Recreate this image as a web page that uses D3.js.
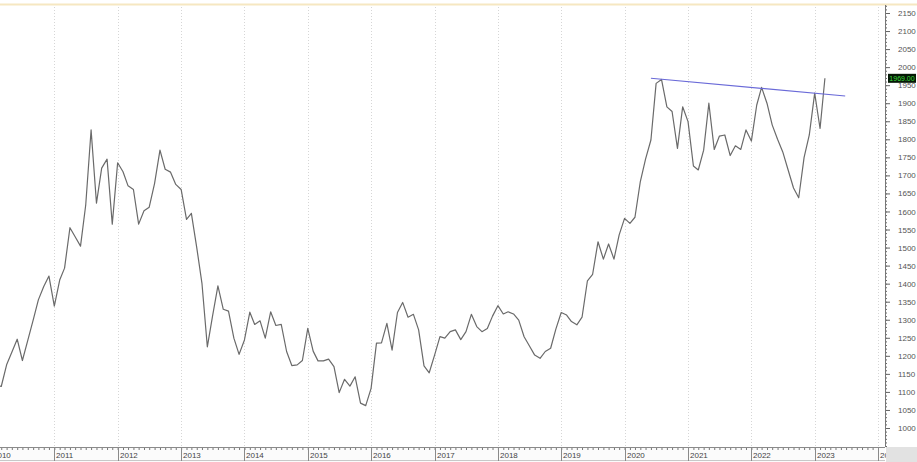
<!DOCTYPE html>
<html>
<head>
<meta charset="utf-8">
<script src="https://cdn.jsdelivr.net/npm/d3@7"></script>
<style>
body { margin: 0; background: #fff; overflow: hidden; }
svg text { font-family: "Liberation Sans", Arial, sans-serif; }
</style>
</head>
<body>
<div class="vizHolder"></div>
<script>
var width = 917,
    height = 462,
    plotRight = 885,
    plotTop = 5,
    plotBottom = 447;

// monthly closes, first value is Feb 2010
var p2010 = [1118, 1115, 1175, 1210, 1246, 1187, 1243, 1299, 1355, 1392, 1421];
var p2011 = [1338, 1410, 1443, 1555, 1530, 1504, 1618, 1826, 1623, 1720, 1745, 1565];
var p2012 = [1735, 1710, 1671, 1661, 1565, 1602, 1612, 1678, 1770, 1717, 1709, 1675];
var p2013 = [1661, 1578, 1595, 1500, 1401, 1225, 1310, 1394, 1329, 1324, 1249, 1204];
var p2014 = [1244, 1321, 1287, 1297, 1249, 1322, 1284, 1287, 1212, 1173, 1175, 1187];
var p2015 = [1276, 1213, 1186, 1186, 1191, 1170, 1098, 1135, 1116, 1142, 1069, 1062];
var p2016 = [1110, 1235, 1236, 1290, 1216, 1320, 1348, 1307, 1315, 1272, 1172, 1153];
var p2017 = [1202, 1253, 1249, 1267, 1272, 1245, 1267, 1315, 1281, 1267, 1276, 1310];
var p2018 = [1339, 1316, 1322, 1316, 1299, 1253, 1228, 1202, 1193, 1212, 1221, 1274];
var p2019 = [1320, 1313, 1295, 1286, 1307, 1408, 1426, 1516, 1468, 1510, 1468, 1535];
var p2020 = [1581, 1567, 1584, 1683, 1745, 1798, 1955, 1966, 1890, 1877, 1775, 1890];
var p2021 = [1849, 1726, 1715, 1770, 1900, 1772, 1809, 1812, 1755, 1782, 1772, 1826];
var p2022 = [1795, 1895, 1944, 1900, 1840, 1800, 1765, 1715, 1665, 1638, 1750, 1812];
var p2023 = [1928, 1830, 1969];

// resistance line
var trendDates = ['2020-06-01', '2023-06-26'];
var trendValues = [1969, 1920];

var yearLabels = [2010, 2011, 2012, 2013, 2014, 2015, 2016, 2017, 2018, 2019, 2020, 2021, 2022, 2023, 2024];
var priceTicks = [1000, 1050, 1100, 1150, 1200, 1250, 1300, 1350, 1400, 1450, 1500, 1550, 1600,
                  1650, 1700, 1750, 1800, 1850, 1900, 1950, 2000, 2050, 2100, 2150];
var lastPrice = '1969.00';

var prices = [].concat(p2010, p2011, p2012, p2013, p2014, p2015, p2016,
                       p2017, p2018, p2019, p2020, p2021, p2022, p2023);
var data = prices.map(function(v, i){
    return { date: new Date(2010, 1 + i, 1), value: v };
});

var svg = d3.select('.vizHolder')
            .append('svg')
            .attr('width', width)
            .attr('height', height);

var xScale = d3.scaleTime()
               .domain([new Date(2010, 0, 1), new Date(2024, 0, 1)])
               .range([-9, 878]);

var yScale = d3.scaleLinear()
               .domain([1000, 2150])
               .range([428, 13]);

// top strip
svg.append('line')
   .attr('x1', 0).attr('x2', width)
   .attr('y1', 4.5).attr('y2', 4.5)
   .attr('stroke', '#f6e7c1').attr('stroke-width', 2);

// bottom label strip
svg.append('rect')
   .attr('x', 0).attr('y', plotBottom)
   .attr('width', plotRight).attr('height', height - plotBottom)
   .attr('fill', '#fbfbfb');

// year gridlines
var years = yearLabels.map(function(y){ return new Date(y, 0, 1); });

svg.append('g')
   .selectAll('line')
   .data(years)
   .enter()
   .append('line')
   .attr('x1', function(d){ return Math.round(xScale(d)) + 0.5; })
   .attr('x2', function(d){ return Math.round(xScale(d)) + 0.5; })
   .attr('y1', plotTop + 2)
   .attr('y2', plotBottom)
   .attr('stroke', '#d6d6d6')
   .attr('stroke-dasharray', '1,2');

// price line
svg.append('clipPath')
   .attr('id', 'plotClip')
   .append('rect')
   .attr('x', 0).attr('y', plotTop)
   .attr('width', plotRight).attr('height', plotBottom - plotTop);

var line = d3.line()
             .x(function(d){ return xScale(d.date); })
             .y(function(d){ return yScale(d.value); });

svg.append('path')
   .datum(data)
   .attr('clip-path', 'url(#plotClip)')
   .attr('d', line)
   .attr('fill', 'none')
   .attr('stroke', '#6a6a6a')
   .attr('stroke-width', 1.2)
   .attr('stroke-linejoin', 'round');

// trend line
var trend = trendDates.map(function(d, i){
    return { date: new Date(d), value: trendValues[i] };
});

svg.append('path')
   .datum(trend)
   .attr('d', line)
   .attr('fill', 'none')
   .attr('stroke', '#6a6ad8')
   .attr('stroke-width', 1.1);

// bottom axis, month ticks
var xAxis = d3.axisBottom(xScale)
              .ticks(d3.timeMonth.every(1))
              .tickSize(3)
              .tickFormat('');

var xAxisGroup = svg.append('g')
                    .attr('id', 'x-axis')
                    .attr('transform', 'translate(0,' + plotBottom + ')')
                    .call(xAxis);
xAxisGroup.select('.domain').remove();
xAxisGroup.selectAll('line').attr('stroke', '#777');

svg.append('line')
   .attr('x1', 0).attr('x2', plotRight)
   .attr('y1', plotBottom + 0.5).attr('y2', plotBottom + 0.5)
   .attr('stroke', '#8a8a8a');

svg.append('line')
   .attr('x1', 0).attr('x2', plotRight)
   .attr('y1', height - 1.5).attr('y2', height - 1.5)
   .attr('stroke', '#c8c8c8');

var yearGroup = svg.append('g')
                   .selectAll('g')
                   .data(years)
                   .enter()
                   .append('g')
                   .attr('transform', function(d){ return 'translate(' + (Math.round(xScale(d)) + 0.5) + ',0)'; });

yearGroup.append('line')
         .attr('y1', plotBottom).attr('y2', height - 1)
         .attr('stroke', '#8a8a8a');

yearGroup.append('text')
         .attr('x', 1.5)
         .attr('y', 458)
         .attr('font-size', 8)
         .attr('fill', '#444')
         .text(function(d){ return d.getFullYear(); });

// corner box covers the part of the last year label past the axis
svg.append('rect')
   .attr('x', plotRight + 1).attr('y', plotBottom)
   .attr('width', width - plotRight).attr('height', height - plotBottom)
   .attr('fill', '#e2e2e2');

// right axis
var minorTicks = d3.range(950, 2180, 10);

var yMinor = d3.axisRight(yScale)
               .tickValues(minorTicks)
               .tickSize(2)
               .tickFormat('');

var yMinorGroup = svg.append('g')
                     .attr('transform', 'translate(' + plotRight + ',0)')
                     .call(yMinor);
yMinorGroup.select('.domain').remove();
yMinorGroup.selectAll('line').attr('stroke', '#666');

var yAxis = d3.axisRight(yScale)
              .tickValues(priceTicks)
              .tickSize(5)
              .tickPadding(8)
              .tickFormat(d3.format('d'));

var yAxisGroup = svg.append('g')
                    .attr('id', 'y-axis')
                    .attr('transform', 'translate(' + plotRight + ',0)')
                    .call(yAxis);
yAxisGroup.select('.domain').remove();
yAxisGroup.selectAll('line').attr('stroke', '#666');
yAxisGroup.selectAll('text')
          .attr('font-size', 8)
          .attr('fill', '#555')
          .style('font-family', '"Liberation Sans", Arial, sans-serif');

svg.append('line')
   .attr('x1', plotRight + 0.5).attr('x2', plotRight + 0.5)
   .attr('y1', plotTop).attr('y2', plotBottom)
   .attr('stroke', '#777');

// last price box
var lastY = yScale(prices[prices.length - 1]);

svg.append('rect')
   .attr('x', 888).attr('y', lastY - 4.5)
   .attr('width', 28).attr('height', 9)
   .attr('fill', '#061806');

svg.append('text')
   .attr('x', 902).attr('y', lastY + 2.5)
   .attr('text-anchor', 'middle')
   .attr('font-size', 7)
   .attr('fill', '#3ddc3d')
   .text(lastPrice);
</script>
</body>
</html>
